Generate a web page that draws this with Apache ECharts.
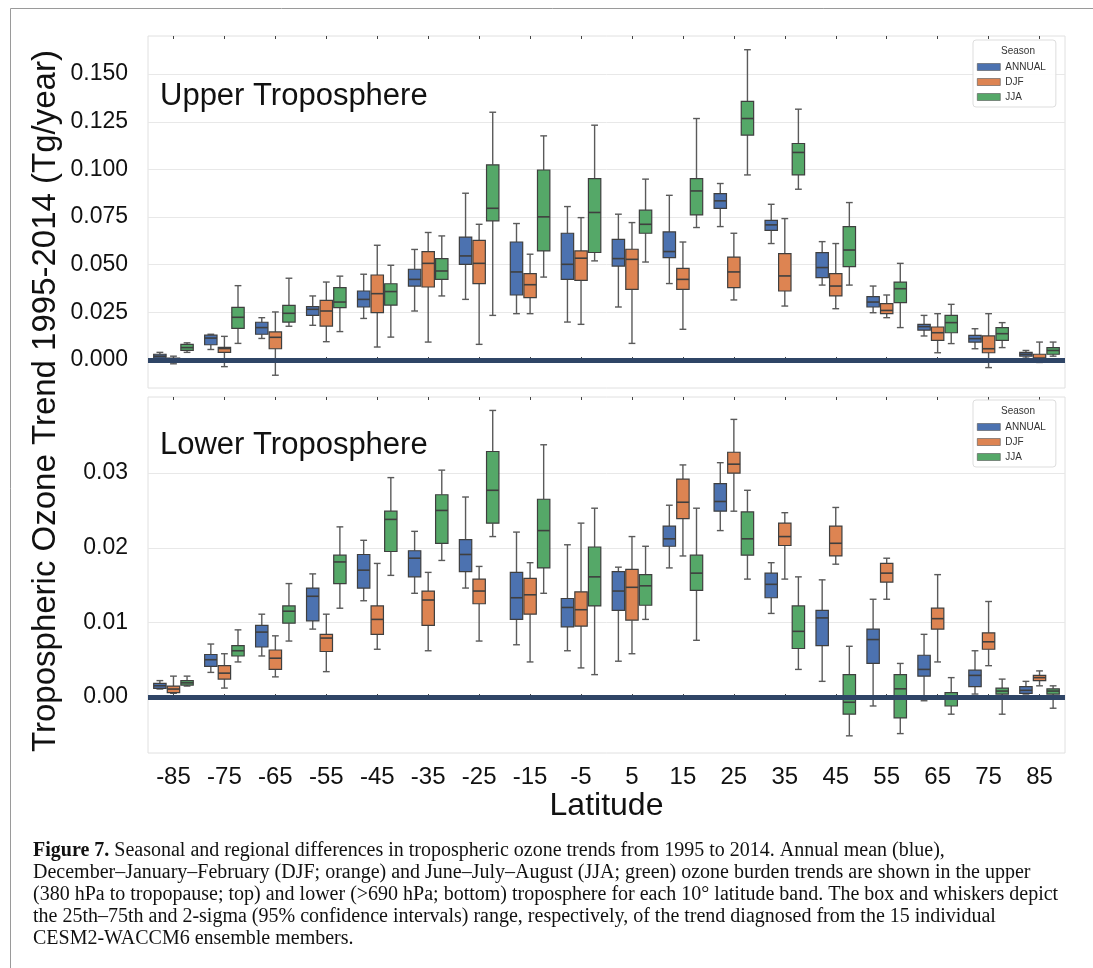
<!DOCTYPE html>
<html>
<head>
<meta charset="utf-8">
<script src="https://cdn.jsdelivr.net/npm/echarts@6/dist/echarts.min.js"></script>
<style>
  html, body { margin: 0; padding: 0; background: #fff; }
  #chart { width: 1093px; height: 968px; }
</style>
</head>
<body>
<div id="chart"></div>
<script>
// ---------- DATA ----------
const categories = ['-85','-75','-65','-55','-45','-35','-25','-15','-5','5','15','25','35','45','55','65','75','85'];
const seasons = ['ANNUAL', 'DJF', 'JJA'];
const upperTicks = [0, 0.025, 0.05, 0.075, 0.1, 0.125, 0.15];
const lowerTicks = [0, 0.01, 0.02, 0.03];

// each entry: [lower whisker, q1, median, q3, upper whisker]
const upperAnnual = [
  [0.0005,0.001,0.002,0.003,0.004],[0.0055,0.008,0.0115,0.013,0.0135],[0.0113,0.0135,0.017,0.0198,0.0222],
  [0.0182,0.0234,0.0266,0.028,0.0336],[0.0218,0.0278,0.0318,0.0362,0.045],[0.0257,0.0388,0.0423,0.0476,0.058],
  [0.0318,0.0502,0.0546,0.0645,0.0875],[0.0243,0.0341,0.0462,0.0619,0.0716],[0.0199,0.0423,0.0502,0.0665,0.0805],
  [0.0278,0.0493,0.0532,0.0633,0.0765],[0.0401,0.0537,0.0569,0.0672,0.0864],[0.07,0.0796,0.0835,0.0873,0.0926],
  [0.0611,0.068,0.0709,0.0733,0.0817],[0.0393,0.0432,0.0485,0.0563,0.0621],[0.0248,0.0278,0.0304,0.0332,0.0388],
  [0.0126,0.0157,0.0175,0.0187,0.0234],[0.0059,0.0094,0.0112,0.0129,0.0164],[0.001,0.002,0.003,0.004,0.005]
];
const upperDJF = [
  [-0.002,-0.001,0.0,0.001,0.002],[-0.0035,0.004,0.006,0.0066,0.0124],[-0.008,0.0059,0.0119,0.0147,0.0252],
  [0.0096,0.0178,0.0257,0.0313,0.0409],[0.0068,0.0248,0.0348,0.0446,0.0602],[0.0094,0.0383,0.0507,0.0569,0.0669],
  [0.0082,0.0401,0.0507,0.0628,0.0712],[0.0243,0.0327,0.0395,0.0453,0.0555],[0.0187,0.0418,0.0534,0.0572,0.0747],
  [0.0087,0.0371,0.0528,0.0581,0.0721],[0.0161,0.0371,0.0423,0.0481,0.0619],[0.0315,0.038,0.0462,0.054,0.0665],
  [0.0283,0.0362,0.0441,0.0558,0.0742],[0.0269,0.0336,0.0388,0.0453,0.0611],[0.0222,0.0243,0.026,0.0296,0.0341],
  [0.0038,0.0103,0.0143,0.0173,0.0243],[-0.004,0.0038,0.0059,0.0126,0.0243],[-0.0013,-0.0006,0.001,0.003,0.0094]
];
const upperJJA = [
  [0.004,0.005,0.0065,0.0082,0.009],[0.0087,0.0166,0.0224,0.0276,0.039],[0.0177,0.0199,0.0245,0.0287,0.0429],
  [0.0149,0.0275,0.0304,0.038,0.044],[0.012,0.0288,0.0359,0.04,0.0497],[0.0336,0.0423,0.0467,0.0532,0.0651],
  [0.0234,0.073,0.0796,0.1024,0.130],[0.0435,0.0572,0.0751,0.0997,0.1176],[0.052,0.0564,0.0774,0.0952,0.1232],
  [0.0514,0.0665,0.0712,0.0786,0.0949],[0.0695,0.0761,0.0887,0.0952,0.1267],[0.0971,0.118,0.1267,0.1357,0.1628],
  [0.0896,0.0971,0.1089,0.1136,0.1316],[0.0393,0.049,0.0577,0.07,0.0826],[0.017,0.0301,0.0374,0.0409,0.0507],
  [0.0086,0.0143,0.0196,0.0234,0.0292],[0.0065,0.0103,0.0138,0.017,0.0196],[0.002,0.003,0.005,0.0065,0.0094]
];
const lowerAnnual = [
  [0.00107,0.00116,0.00151,0.00183,0.0022],[0.0033,0.0041,0.005,0.0057,0.0071],[0.0055,0.0067,0.0087,0.0096,0.0111],
  [0.0091,0.0102,0.0135,0.0146,0.0165],[0.0129,0.0146,0.017,0.0191,0.021],[0.0139,0.0161,0.0186,0.0196,0.0222],
  [0.0146,0.0168,0.0191,0.0211,0.0268],[0.007,0.0104,0.0133,0.0167,0.0221],[0.0062,0.0094,0.012,0.0132,0.0204],
  [0.0048,0.0116,0.0142,0.0168,0.0174],[0.0173,0.0202,0.0212,0.0229,0.0257],[0.0223,0.0249,0.0262,0.0286,0.0314],
  [0.0112,0.0133,0.0151,0.0166,0.018],[0.0021,0.0069,0.0106,0.0116,0.0157],[-0.0012,0.0045,0.0077,0.0091,0.0131],
  [-0.0005,0.0028,0.0037,0.0056,0.0084],[0.0004,0.0014,0.0029,0.0036,0.0062],[0.0004,0.0005,0.0009,0.0014,0.0021]
];
const lowerDJF = [
  [0.0005,0.00058,0.00107,0.00147,0.0028],[0.0012,0.0024,0.0032,0.0042,0.0058],[0.0027,0.0037,0.0052,0.0063,0.0082],
  [0.0034,0.0061,0.0079,0.0084,0.0111],[0.0064,0.0084,0.0104,0.0122,0.0179],[0.0062,0.0096,0.013,0.0142,0.0167],
  [0.0075,0.0125,0.0142,0.0158,0.0175],[0.0047,0.0111,0.0137,0.0159,0.018],[0.0039,0.0095,0.0117,0.0141,0.0233],
  [0.0058,0.0103,0.0147,0.0171,0.0215],[0.0189,0.0239,0.0261,0.0292,0.0311],[0.0249,0.03,0.0312,0.0328,0.0372],
  [0.0158,0.0203,0.0215,0.0233,0.0247],[0.0178,0.0189,0.0206,0.0229,0.0254],[0.0131,0.0154,0.0166,0.0179,0.0186],
  [0.0047,0.0091,0.0105,0.0119,0.0164],[0.0042,0.0064,0.0074,0.0086,0.0128],[0.0015,0.0022,0.0026,0.0029,0.0035]
];
const lowerJJA = [
  [0.00147,0.0016,0.0019,0.0022,0.0028],[0.0047,0.0055,0.0062,0.0069,0.009],[0.0075,0.0099,0.0115,0.0122,0.0152],
  [0.0119,0.0152,0.0181,0.019,0.0228],[0.0163,0.0195,0.0238,0.0249,0.0294],[0.0183,0.0206,0.025,0.0271,0.0304],
  [0.0215,0.0233,0.0277,0.0329,0.0384],[0.0139,0.0173,0.0223,0.0265,0.0338],[0.003,0.0122,0.0161,0.0201,0.0253],
  [0.0104,0.0123,0.0149,0.0164,0.0202],[0.0076,0.0143,0.0166,0.019,0.0253],[0.0158,0.019,0.0212,0.0248,0.0277],
  [0.0037,0.0065,0.0088,0.0122,0.0161],[-0.0052,-0.0023,-0.0007,0.003,0.0068],[-0.0049,-0.0028,0.0011,0.003,0.0045],
  [-0.0023,-0.0012,0.0001,0.0006,0.0026],[-0.0023,0.0004,0.0008,0.0012,0.0024],[-0.0015,0.0004,0.0008,0.0011,0.0015]
];

const captionLines = [
  '{b|Figure 7.} Seasonal and regional differences in tropospheric ozone trends from 1995 to 2014. Annual mean (blue),',
  'December\u2013January\u2013February (DJF; orange) and June\u2013July\u2013August (JJA; green) ozone burden trends are shown in the upper',
  '(380 hPa to tropopause; top) and lower (>690 hPa; bottom) troposphere for each 10\u00b0 latitude band. The box and whiskers depict',
  'the 25th\u201375th and 2-sigma (95% confidence intervals) range, respectively, of the trend diagnosed from the 15 individual',
  'CESM2-WACCM6 ensemble members.'
];

// ---------- STYLE ----------
const colors = ['#4C72B0', '#DD8452', '#55A868'];
const SANS = "'Liberation Sans', Arial, Helvetica, sans-serif";
const SERIF = "'Liberation Serif', 'Times New Roman', serif";
const edge = '#3f3f3f';

function makeRender(offIdx) {
  return function (params, api) {
    const idx = api.value(0);
    const bw = api.size([1, 0])[0];
    const w = bw * 0.8 / 3;
    const cx = api.coord([idx, 0])[0] + (offIdx - 1) * w;
    const yLow = api.coord([idx, api.value(1)])[1];
    const yQ1 = api.coord([idx, api.value(2)])[1];
    const yMed = api.coord([idx, api.value(3)])[1];
    const yQ3 = api.coord([idx, api.value(4)])[1];
    const yHigh = api.coord([idx, api.value(5)])[1];
    const cap = w * 0.25;
    const ls = { stroke: '#5a5a5a', lineWidth: 1.4 };
    return {
      type: 'group',
      children: [
        { type: 'line', shape: { x1: cx, y1: yHigh, x2: cx, y2: yQ3 }, style: ls },
        { type: 'line', shape: { x1: cx, y1: yQ1, x2: cx, y2: yLow }, style: ls },
        { type: 'line', shape: { x1: cx - cap, y1: yHigh, x2: cx + cap, y2: yHigh }, style: ls },
        { type: 'line', shape: { x1: cx - cap, y1: yLow, x2: cx + cap, y2: yLow }, style: ls },
        { type: 'rect', shape: { x: cx - w / 2 + 0.6, y: yQ3, width: w - 1.2, height: Math.max(yQ1 - yQ3, 1) },
          style: { fill: api.visual('color'), stroke: edge, lineWidth: 1.2 } },
        { type: 'line', shape: { x1: cx - w / 2 + 0.6, y1: yMed, x2: cx + w / 2 - 0.6, y2: yMed },
          style: { stroke: edge, lineWidth: 1.6 } }
      ]
    };
  };
}

function buildSeries(arr, si, gridIdx) {
  const s = {
    name: seasons[si],
    type: 'custom',
    xAxisIndex: gridIdx,
    yAxisIndex: gridIdx,
    itemStyle: { color: colors[si] },
    renderItem: makeRender(si),
    encode: { x: 0, y: [1, 2, 3, 4, 5] },
    data: arr.map((d, i) => [i].concat(d)),
    z: 2
  };
  if (si === 0) {
    s.markLine = {
      silent: true, symbol: 'none', z: 10,
      label: { show: false },
      lineStyle: { color: '#2f4566', width: 5, type: 'solid' },
      data: [{ yAxis: 0 }]
    };
  }
  return s;
}

const xAxisBase = (gridIndex, showLabels) => ({
  type: 'category', gridIndex, data: categories,
  axisLine: { show: false },
  axisTick: { show: true, alignWithLabel: true, inside: true, length: 3, lineStyle: { color: '#444', width: 1 } },
  axisLabel: { show: showLabels, interval: 0, fontSize: 24, color: '#111', fontFamily: SANS, margin: 12 },
  splitLine: { show: false }
});
const xAxisTop = (gridIndex) => ({
  type: 'category', gridIndex, data: categories, position: 'top',
  axisLine: { show: false },
  axisTick: { show: true, alignWithLabel: true, inside: true, length: 3, lineStyle: { color: '#444', width: 1 } },
  axisLabel: { show: false }, splitLine: { show: false }
});

const legendBase = (top) => ({
  data: seasons.map((n, i) => ({ name: n, icon: 'rect', itemStyle: { color: colors[i], borderColor: '#555', borderWidth: 0.6 } })),
  orient: 'vertical', left: 973, top: top,
  itemWidth: 23, itemHeight: 7, itemGap: 5,
  padding: [22, 10, 5, 4],
  borderColor: '#dddddd', borderWidth: 1, borderRadius: 3,
  backgroundColor: 'rgba(255,255,255,0.9)',
  textStyle: { fontSize: 10, color: '#333', fontFamily: SANS },
  selectedMode: false
});

const option = {
  backgroundColor: '#ffffff',
  animation: false,
  grid: [
    { left: 148, top: 36, width: 917, height: 352, show: true, borderColor: '#e0e0e0', borderWidth: 1, backgroundColor: 'transparent' },
    { left: 148, top: 397, width: 917, height: 356, show: true, borderColor: '#e0e0e0', borderWidth: 1, backgroundColor: 'transparent' }
  ],
  xAxis: [
    xAxisBase(0, false),
    Object.assign(xAxisBase(1, true), {
      name: 'Latitude', nameLocation: 'middle', nameGap: 35,
      nameTextStyle: { fontSize: 32, color: '#111', fontFamily: SANS }
    }),
    xAxisTop(0),
    xAxisTop(1)
  ],
  yAxis: [
    {
      type: 'value', gridIndex: 0, min: -0.0147, max: 0.170,
      axisLine: { show: false },
      axisTick: { show: false, customValues: upperTicks },
      axisLabel: { customValues: upperTicks, fontSize: 23, color: '#111', fontFamily: SANS, margin: 20,
        formatter: v => v.toFixed(3) },
      splitLine: { show: true, lineStyle: { color: '#e8e8e8', width: 1 } }
    },
    {
      type: 'value', gridIndex: 1, min: -0.0075, max: 0.0402,
      axisLine: { show: false },
      axisTick: { show: false, customValues: lowerTicks },
      axisLabel: { customValues: lowerTicks, fontSize: 23, color: '#111', fontFamily: SANS, margin: 20,
        formatter: v => v.toFixed(2) },
      splitLine: { show: true, lineStyle: { color: '#e8e8e8', width: 1 } }
    }
  ],
  legend: [legendBase(40), legendBase(400)],
  series: [
    buildSeries(upperAnnual, 0, 0), buildSeries(upperDJF, 1, 0), buildSeries(upperJJA, 2, 0),
    buildSeries(lowerAnnual, 0, 1), buildSeries(lowerDJF, 1, 1), buildSeries(lowerJJA, 2, 1)
  ],
  graphic: [
    { type: 'rect', silent: true, z: 0, shape: { x: 10.5, y: 8.5, width: 1100, height: 1000 },
      style: { fill: 'none', stroke: '#9a9a9a', lineWidth: 1 } },
    { type: 'text', z: 20, x: 160, y: 96,
      style: { text: 'Upper Troposphere', fontSize: 31, fontFamily: SANS, fill: '#111', verticalAlign: 'middle' } },
    { type: 'text', z: 20, x: 160, y: 445,
      style: { text: 'Lower Troposphere', fontSize: 31, fontFamily: SANS, fill: '#111', verticalAlign: 'middle' } },
    { type: 'text', z: 20, x: 46, y: 401, rotation: Math.PI / 2,
      style: { text: 'Tropospheric Ozone Trend 1995-2014 (Tg/year)', fontSize: 33, fontFamily: SANS, fill: '#111',
        align: 'center', verticalAlign: 'middle' } },
    { type: 'text', z: 30, x: 1018, y: 51,
      style: { text: 'Season', fontSize: 10, fontFamily: SANS, fill: '#333', align: 'center', verticalAlign: 'middle' } },
    { type: 'text', z: 30, x: 1018, y: 411,
      style: { text: 'Season', fontSize: 10, fontFamily: SANS, fill: '#333', align: 'center', verticalAlign: 'middle' } },
    { type: 'text', z: 20, x: 33, y: 840,
      style: { text: captionLines.join('\n'), fontSize: 20, lineHeight: 22, fontFamily: SERIF, fill: '#111',
        rich: { b: { fontWeight: 'bold', fontSize: 20, fontFamily: SERIF, lineHeight: 22 } } } }
  ]
};

const chart = echarts.init(document.getElementById('chart'), null, { renderer: 'canvas' });
chart.setOption(option);
</script>
</body>
</html>
